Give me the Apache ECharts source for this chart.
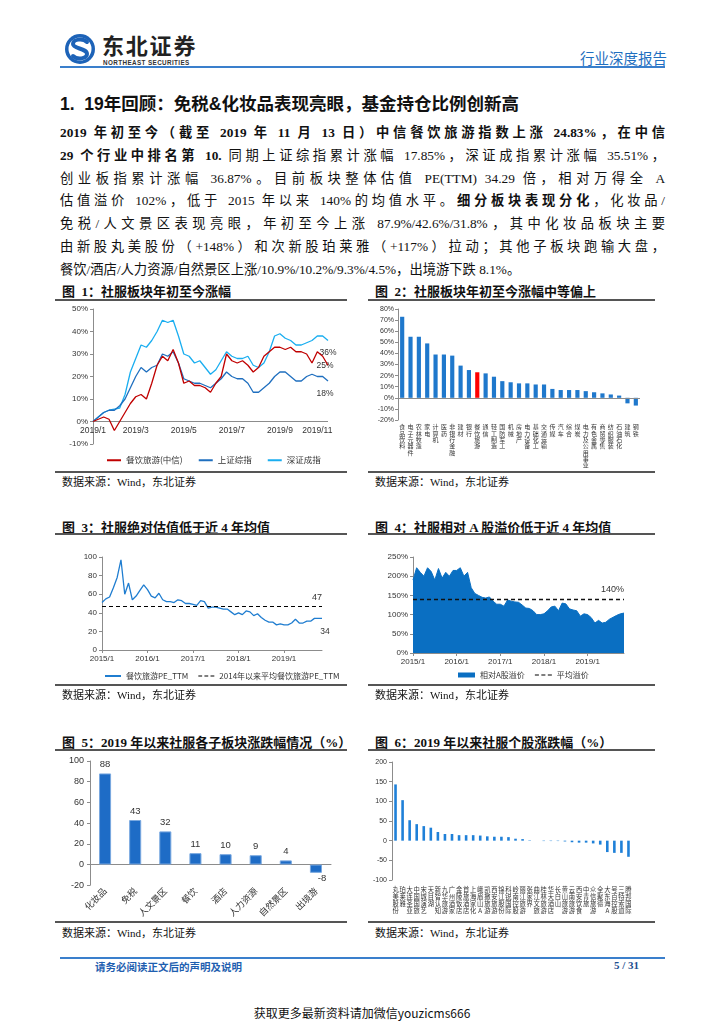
<!DOCTYPE html>
<html><head><meta charset="utf-8">
<script src="https://cdn.jsdelivr.net/npm/echarts@6/dist/echarts.min.js"></script>
<style>
body{margin:0;width:724px;height:1024px;background:#fff;position:relative;overflow:hidden;font-family:"Liberation Serif","Noto Sans CJK SC",serif;color:#111}
.abs{position:absolute;white-space:nowrap}
.title{position:absolute;font-size:13px;font-weight:bold;white-space:nowrap;font-family:"Liberation Serif","Noto Sans CJK SC",serif}
.rule{position:absolute;height:1.5px;background:#555}
.src{position:absolute;font-size:11px;white-space:nowrap}
.chart{position:absolute}
.para{position:absolute;left:60px;top:122px;width:605px;font-size:13.3px}
.para div{text-align:justify;text-align-last:justify;height:22.8px;line-height:22.8px}
.para div.last{text-align:left;text-align-last:left}
</style>
</head><body>
<!-- header -->
<svg class="abs" style="left:63px;top:33px" width="34" height="32" viewBox="0 0 34 32">
<circle cx="17" cy="16" r="15" fill="#1d63b8"/>
<circle cx="17" cy="16" r="11.5" fill="#fff"/>
<path d="M24,9 C20,5 10,6 10,11 C10,16 24,15 24,21 C24,26 14,27 10,23" stroke="#1d63b8" stroke-width="4" fill="none" stroke-linecap="round"/>
</svg>
<div class="abs" style="left:102px;top:31px;font-family:'Noto Sans CJK SC';font-weight:bold;font-size:22px;line-height:26px;letter-spacing:1.8px;color:#222">东北证券</div>
<div class="abs" style="left:103px;top:59px;font-family:'Liberation Sans';font-weight:bold;font-size:6.3px;line-height:7px;letter-spacing:0.4px;color:#333">NORTHEAST SECURITIES</div>
<div class="abs" style="left:580px;top:47px;font-family:'Noto Sans CJK SC';font-size:14.5px;color:#1f6fc0">行业深度报告</div>
<div class="abs" style="left:60px;top:66px;width:605px;height:2px;background:#3a7fcc"></div>

<div class="abs" style="left:60px;top:90px;font-family:'Liberation Sans','Noto Sans CJK SC';font-weight:bold;font-size:17.5px;color:#111">1.&nbsp; 19年回顾：免税&amp;化妆品表现亮眼，基金持仓比例创新高</div>

<div class="para">
<div><b>2019 年初至今（截至 2019 年 11 月 13 日）中信餐饮旅游指数上涨 24.83%，在中信</b></div>
<div><b>29 个行业中排名第 10.</b> 同期上证综指累计涨幅 17.85%，深证成指累计涨幅 35.51%，</div>
<div>创业板指累计涨幅 36.87%。目前板块整体估值 PE(TTM) 34.29 倍，相对万得全 A</div>
<div>估值溢价 102%，低于 2015 年以来 140%的均值水平。<b>细分板块表现分化</b>，化妆品/</div>
<div>免税/人文景区表现亮眼，年初至今上涨 87.9%/42.6%/31.8%，其中化妆品板块主要</div>
<div>由新股丸美股份（+148%）和次新股珀莱雅（+117%）拉动；其他子板块跑输大盘，</div>
<div class="last">餐饮/酒店/人力资源/自然景区上涨/10.9%/10.2%/9.3%/4.5%，出境游下跌 8.1%。</div>
</div>

<!-- row 1 -->
<div class="title" style="left:62px;top:281px">图&ensp;1：社服板块年初至今涨幅</div>
<div class="rule" style="left:55px;top:299px;width:292px"></div>
<div class="title" style="left:375px;top:281px">图&ensp;2：社服板块年初至今涨幅中等偏上</div>
<div class="rule" style="left:368px;top:299px;width:287px"></div>
<div id="c1" class="chart" style="left:55px;top:300px;width:300px;height:170px"></div>
<div id="c2" class="chart" style="left:365px;top:300px;width:300px;height:170px"></div>
<div class="rule" style="left:55px;top:471px;width:292px"></div>
<div class="rule" style="left:368px;top:471px;width:287px"></div>
<div class="src" style="left:62px;top:473px">数据来源：Wind，东北证券</div>
<div class="src" style="left:375px;top:473px">数据来源：Wind，东北证券</div>

<!-- row 2 -->
<div class="title" style="left:62px;top:517px">图&ensp;3：社服绝对估值低于近 4 年均值</div>
<div class="rule" style="left:55px;top:533px;width:292px"></div>
<div class="title" style="left:375px;top:517px">图&ensp;4：社服相对 A 股溢价低于近 4 年均值</div>
<div class="rule" style="left:368px;top:533px;width:287px"></div>
<div id="c3" class="chart" style="left:55px;top:540px;width:300px;height:145px"></div>
<div id="c4" class="chart" style="left:365px;top:540px;width:300px;height:145px"></div>
<div class="rule" style="left:55px;top:684px;width:292px"></div>
<div class="rule" style="left:368px;top:684px;width:287px"></div>
<div class="src" style="left:62px;top:686px">数据来源：Wind，东北证券</div>
<div class="src" style="left:375px;top:686px">数据来源：Wind，东北证券</div>

<!-- row 3 -->
<div class="title" style="left:62px;top:732px">图&ensp;5：2019 年以来社服各子板块涨跌幅情况（%）</div>
<div class="rule" style="left:55px;top:749px;width:292px"></div>
<div class="title" style="left:375px;top:732px">图&ensp;6：2019 年以来社服个股涨跌幅（%）</div>
<div class="rule" style="left:368px;top:749px;width:287px"></div>
<div id="c5" class="chart" style="left:55px;top:745px;width:300px;height:175px"></div>
<div id="c6" class="chart" style="left:365px;top:740px;width:300px;height:180px"></div>
<div class="rule" style="left:55px;top:921px;width:292px"></div>
<div class="rule" style="left:368px;top:921px;width:287px"></div>
<div class="src" style="left:62px;top:924px">数据来源：Wind，东北证券</div>
<div class="src" style="left:375px;top:924px">数据来源：Wind，东北证券</div>

<!-- footer -->
<div class="abs" style="left:60px;top:957px;width:605px;height:2px;background:#3a7fcc"></div>
<div class="abs" style="left:95px;top:959px;font-family:'Noto Sans CJK SC';font-weight:bold;font-size:10.5px;color:#1f5fb0">请务必阅读正文后的声明及说明</div>
<div class="abs" style="left:614px;top:959px;font-family:'Liberation Serif';font-weight:bold;font-size:11px;color:#1f4f90">5 / 31</div>
<div class="abs" style="left:0;width:724px;top:1004px;text-align:center;font-family:'Noto Sans CJK SC';font-size:12px;color:#111">获取更多最新资料请加微信youzicms666</div>

<script>
// ---------- data ----------
const dates1 = ['2019/1/2','2019/1/4','2019/1/11','2019/1/18','2019/1/25','2019/2/1','2019/2/15','2019/2/22','2019/3/1','2019/3/8','2019/3/15','2019/3/22','2019/3/29','2019/4/4','2019/4/12','2019/4/19','2019/4/26','2019/5/6','2019/5/10','2019/5/17','2019/5/24','2019/5/31','2019/6/6','2019/6/14','2019/6/21','2019/6/28','2019/7/5','2019/7/12','2019/7/19','2019/7/26','2019/8/2','2019/8/9','2019/8/16','2019/8/23','2019/8/30','2019/9/6','2019/9/12','2019/9/20','2019/9/27','2019/10/11','2019/10/18','2019/10/25','2019/11/1','2019/11/8','2019/11/13'];
const tickDates1 = ['2019/1/2','2019/3/1','2019/5/6','2019/7/5','2019/9/6','2019/11/1'];
const tickText1 = ['2019/1','2019/3','2019/5','2019/7','2019/9','2019/11'];
const catering1 = [0,1,2,1,-4,0,4,8,11,12,10,17,25,29,27,32,26,17,18,16,16,15,13,17,20,30,27,26,27,25,22,24,29,31,33,33,32,33,31,31,30,26,31,29,25];
const shIndex1 = [0,2,4,5,5,7,10,15,20,24,22,24,25,30,29,31,26,19,18,17,17,16,15,17,19,22,20,19,19,17,13,13,15,17,20,22,22,20,18,18,20,21,20,20,18];
const szIndex1 = [0,2,4,5,5.5,6,12,22,28,34,33,36,40,45,44,45,38,30,29,26,27,24,21,23,27,31,29,28,28,29,25,24,26,31,38,39,37,36,34,34,35,36,38,38,36];

const industries2 = ['食品饮料','电子元器件','农林牧渔','家电','计算机','医药','非银行金融','建材','银行','餐饮旅游','通信','轻工制造','国防军工','机械','房地产','电力设备','基础化工','交通运输','传媒','汽车','综合','煤炭','电力及公用事业','有色金属','商贸零售','纺织服装','石油石化','建筑','钢铁'];
const ytd2 = [73,55,55,49,39,39,38,29,25,23,22,19,15,14,13,13,12,12,8,7,7,7,6,5,4,3,2,-5,-7];
const highlight2 = '餐饮旅游';

const months = ['2015/1','2015/2','2015/3','2015/4','2015/5','2015/6','2015/7','2015/8','2015/9','2015/10','2015/11','2015/12','2016/1','2016/2','2016/3','2016/4','2016/5','2016/6','2016/7','2016/8','2016/9','2016/10','2016/11','2016/12','2017/1','2017/2','2017/3','2017/4','2017/5','2017/6','2017/7','2017/8','2017/9','2017/10','2017/11','2017/12','2018/1','2018/2','2018/3','2018/4','2018/5','2018/6','2018/7','2018/8','2018/9','2018/10','2018/11','2018/12','2019/1','2019/2','2019/3','2019/4','2019/5','2019/6','2019/7','2019/8','2019/9','2019/10','2019/11'];
const pe3 = [51,55,57,67,78,97,60,72,54,58,64,70, 65,58,56,61,54,52,52,51,54,53,50,50, 49,48,53,52,45,46,46,45,44,44,41,38, 40,38,42,41,37,39,35,32,30,30,27,28, 27,27,29,33,29,29,31,31,34,34,34];
const avgPE3 = 47;
const premium4 = [190,222,210,200,222,212,190,220,195,210,200,215, 215,222,200,210,170,155,150,145,143,146,135,127, 127,122,138,135,133,132,125,117,116,110,100,100, 102,110,120,122,110,130,128,115,112,110,96,102, 100,92,78,85,78,80,88,93,98,102,104];
const avgPremium4 = 140;

const sectors5 = ['化妆品','免税','人文景区','餐饮','酒店','人力资源','自然景区','出境游'];
const sectorVal5 = [88,43,32,11,10,9,4,-8];

const stocks6 = ['丸美股份','珀莱雅','大连圣亚','中国国旅','宋城演艺','天目湖','新智认知','九华旅游','广州酒家','金陵饭店','首旅酒店','上海家化','峨眉山A','凯撒旅游','西安旅游','锦江股份','科锐国际','岭南控股','丽江旅游','张家界','曲江文旅','桂林旅游','华天酒店','长白山','黄山旅游','云南旅游','西安饮食','中青旅','众信旅游','全聚德','大东海A','号百控股','三特索道','腾邦国际'];
const stockVal6 = [143,103,52,42,37,33,22,17,17,14,14,14,13,11,10,10,9,5,4,1,0,-1,-1,-1,-2,-4,-5,-5,-7,-10,-29,-31,-31,-41];

// ---------- helpers ----------
const SANS = "'Liberation Sans','Noto Sans CJK SC',sans-serif";
const CJK = "'Noto Sans CJK SC','Liberation Sans',sans-serif";
const axisCol = '#8c8c8c';
const txtCol = '#333';
const dashIcon = 'path://M0,0H5V1H0ZM8,0H13V1H8ZM16,0H21V1H16Z';
function vert(s){return s.split('').join('\n');}
function endMark(cats, arr, pos, offset, fmt){
  const i = arr.length-1;
  return {silent:true,symbol:'circle',symbolSize:0,
    label:{show:true,position:pos,offset:offset,formatter:fmt,fontSize:8.5,color:txtCol,fontFamily:SANS},
    data:[{coord:[cats[i],arr[i]],value:arr[i]}]};
}
const zeroLine = {silent:true,symbol:'none',label:{show:false},lineStyle:{color:axisCol,type:'solid',width:1},data:[{yAxis:0}]};

// ---------- chart 1 ----------
const c1 = echarts.init(document.getElementById('c1'));
c1.setOption({
  animation:false,
  grid:{left:38,top:9,width:235,height:135},
  legend:{top:151,left:47,itemWidth:14,itemHeight:2,itemGap:16,icon:'rect',textStyle:{fontSize:8.5,fontFamily:CJK,color:txtCol},
    data:['餐饮旅游(中信)','上证综指','深证成指']},
  xAxis:{type:'category',data:dates1,boundaryGap:false,
    axisLine:{show:false,onZero:false},
    axisTick:{show:false},
    axisLabel:{interval:(i,v)=>tickDates1.includes(v),formatter:v=>tickText1[tickDates1.indexOf(v)],fontSize:8.5,color:txtCol,fontFamily:SANS,margin:-18}},
  yAxis:{type:'value',min:-10,max:50,interval:10,
    axisLine:{show:true,lineStyle:{color:axisCol}},axisTick:{show:true,length:3,lineStyle:{color:axisCol}},splitLine:{show:false},
    axisLabel:{formatter:'{value}%',fontSize:8,color:txtCol,fontFamily:SANS,margin:5}},
  series:[
    {name:'餐饮旅游(中信)',type:'line',data:catering1,symbol:'none',color:'#c00000',lineStyle:{width:1.3},z:5,
      markPoint:endMark(dates1,catering1,'inside',[-3,0],'{c}%')},
    {name:'上证综指',type:'line',data:shIndex1,symbol:'none',color:'#1f6fbf',lineStyle:{width:1.3},z:3,
      markPoint:endMark(dates1,shIndex1,'bottom',[-3,3],'{c}%'),markLine:zeroLine},
    {name:'深证成指',type:'line',data:szIndex1,symbol:'none',color:'#1aaef0',lineStyle:{width:1.3},z:2,
      markPoint:endMark(dates1,szIndex1,'bottom',[0,3],'{c}%')}
  ]
});

// ---------- chart 2 ----------
const c2 = echarts.init(document.getElementById('c2'));
c2.setOption({
  animation:false,
  grid:{left:33,top:9,width:242,height:111},
  xAxis:{type:'category',data:industries2,position:'bottom',
    axisLine:{show:false,onZero:false},axisTick:{show:false},
    axisLabel:{interval:0,formatter:vert,fontSize:6,lineHeight:6.3,verticalAlign:'top',color:txtCol,fontFamily:CJK,margin:4}},
  yAxis:{type:'value',min:-20,max:80,interval:10,
    axisLine:{show:true,lineStyle:{color:axisCol}},axisTick:{show:true,length:3,lineStyle:{color:axisCol}},splitLine:{show:false},
    axisLabel:{formatter:'{value}%',fontSize:7,color:txtCol,fontFamily:SANS,margin:4}},
  series:[{type:'bar',barWidth:'50%',
    data:ytd2.map((v,i)=>industries2[i]===highlight2?{value:v,itemStyle:{color:'#ff0000'}}:v),
    itemStyle:{color:'#1f78cc'},
    markLine:zeroLine}]
});

// ---------- chart 3 ----------
const c3 = echarts.init(document.getElementById('c3'));
c3.setOption({
  animation:false,
  grid:{left:47,top:17,width:220,height:93},
  legend:{top:127,left:45,itemWidth:16,itemHeight:2,itemGap:10,textStyle:{fontSize:8,fontFamily:CJK,color:txtCol},
    data:[{name:'餐饮旅游PE_TTM',icon:'rect'},{name:'2014年以来平均餐饮旅游PE_TTM',icon:dashIcon}]},
  xAxis:{type:'category',data:months,boundaryGap:false,
    axisLine:{lineStyle:{color:axisCol}},axisTick:{interval:11,length:3,lineStyle:{color:axisCol}},
    axisLabel:{interval:11,fontSize:8,color:txtCol,fontFamily:SANS,margin:5}},
  yAxis:{type:'value',min:0,max:100,interval:20,
    axisLine:{show:true,lineStyle:{color:axisCol}},axisTick:{show:true,length:3,lineStyle:{color:axisCol}},splitLine:{show:false},
    axisLabel:{fontSize:8,color:txtCol,fontFamily:SANS,margin:5}},
  series:[
    {name:'餐饮旅游PE_TTM',type:'line',symbol:'none',color:'#1f7dd0',lineStyle:{width:1.3},data:pe3,
      markPoint:endMark(months,pe3,'bottom',[3,4],'{c}')},
    {name:'2014年以来平均餐饮旅游PE_TTM',type:'line',data:[],color:'#000',
      markLine:{silent:true,symbol:'none',lineStyle:{color:'#000',type:[4,3],width:1.2},
        label:{show:true,position:'insideEndTop',formatter:'{c}',fontSize:9,color:txtCol,fontFamily:SANS,distance:[0,4]},
        data:[{yAxis:avgPE3}]}}
  ]
});

// ---------- chart 4 ----------
const c4 = echarts.init(document.getElementById('c4'));
c4.setOption({
  animation:false,
  grid:{left:48,top:17,width:211,height:96},
  legend:{top:126,left:88,itemWidth:17,itemHeight:5,itemGap:10,textStyle:{fontSize:8,fontFamily:CJK,color:txtCol},
    data:[{name:'相对A股溢价',icon:'rect'},{name:'平均溢价',icon:dashIcon,itemStyle:{color:'#000'}}]},
  xAxis:{type:'category',data:months,boundaryGap:false,
    axisLine:{lineStyle:{color:axisCol}},axisTick:{interval:11,length:3,lineStyle:{color:axisCol}},
    axisLabel:{interval:11,fontSize:8,color:txtCol,fontFamily:SANS,margin:5}},
  yAxis:{type:'value',min:0,max:250,interval:50,
    axisLine:{show:true,lineStyle:{color:axisCol}},axisTick:{show:true,length:3,lineStyle:{color:axisCol}},splitLine:{show:false},
    axisLabel:{formatter:'{value}%',fontSize:8,color:txtCol,fontFamily:SANS,margin:5}},
  series:[
    {name:'相对A股溢价',type:'line',symbol:'none',data:premium4,color:'#0a6fc2',lineStyle:{width:1,color:'#0a6fc2'},areaStyle:{color:'#0a6fc2',opacity:1}},
    {name:'平均溢价',type:'line',data:[],color:'#000',
      markLine:{silent:true,symbol:'none',lineStyle:{color:'#111',type:[4,3],width:1.4},
        label:{show:true,position:'insideEndTop',formatter:'{c}%',fontSize:9,color:txtCol,fontFamily:SANS,distance:[0,5]},
        data:[{yAxis:avgPremium4}]}}
  ]
});

// ---------- chart 5 ----------
const c5 = echarts.init(document.getElementById('c5'));
c5.setOption({
  animation:false,
  grid:{left:35,top:16,width:241,height:140},
  xAxis:{type:'category',data:sectors5,
    axisLine:{onZero:true,lineStyle:{color:axisCol}},axisTick:{length:3,lineStyle:{color:axisCol}},
    axisLabel:{interval:0,rotate:45,fontSize:9,color:txtCol,fontFamily:CJK,margin:4}},
  yAxis:{type:'value',min:-20,max:100,interval:20,
    axisLine:{show:true,lineStyle:{color:axisCol}},axisTick:{show:true,length:3,lineStyle:{color:axisCol}},splitLine:{show:false},
    axisLabel:{fontSize:9,color:txtCol,fontFamily:SANS,margin:6}},
  series:[{type:'bar',barWidth:'40%',itemStyle:{color:'#1e6cc6',borderColor:'#7aa9e0',borderWidth:1},
    label:{show:true,position:'top',fontSize:9.5,color:txtCol,fontFamily:SANS,distance:4},
    data:sectorVal5.map(v=> v<0?{value:v,label:{position:'bottom',offset:[6,-3]}}:v)}]
});

// ---------- chart 6 ----------
const c6 = echarts.init(document.getElementById('c6'));
c6.setOption({
  animation:false,
  grid:{left:27,top:22,width:240,height:118},
  xAxis:{type:'category',data:stocks6,position:'bottom',
    axisLine:{show:false,onZero:false},axisTick:{show:false},
    axisLabel:{interval:0,formatter:vert,fontSize:6.3,lineHeight:7,verticalAlign:'top',color:txtCol,fontFamily:CJK,margin:6}},
  yAxis:{type:'value',min:-100,max:200,interval:50,
    axisLine:{show:true,lineStyle:{color:axisCol}},axisTick:{show:true,length:3,lineStyle:{color:axisCol}},splitLine:{show:false},
    axisLabel:{fontSize:7,color:txtCol,fontFamily:SANS,margin:5}},
  series:[{type:'bar',barWidth:2.6,itemStyle:{color:'#1f80d8'},data:stockVal6}]
});
</script>
</body></html>
